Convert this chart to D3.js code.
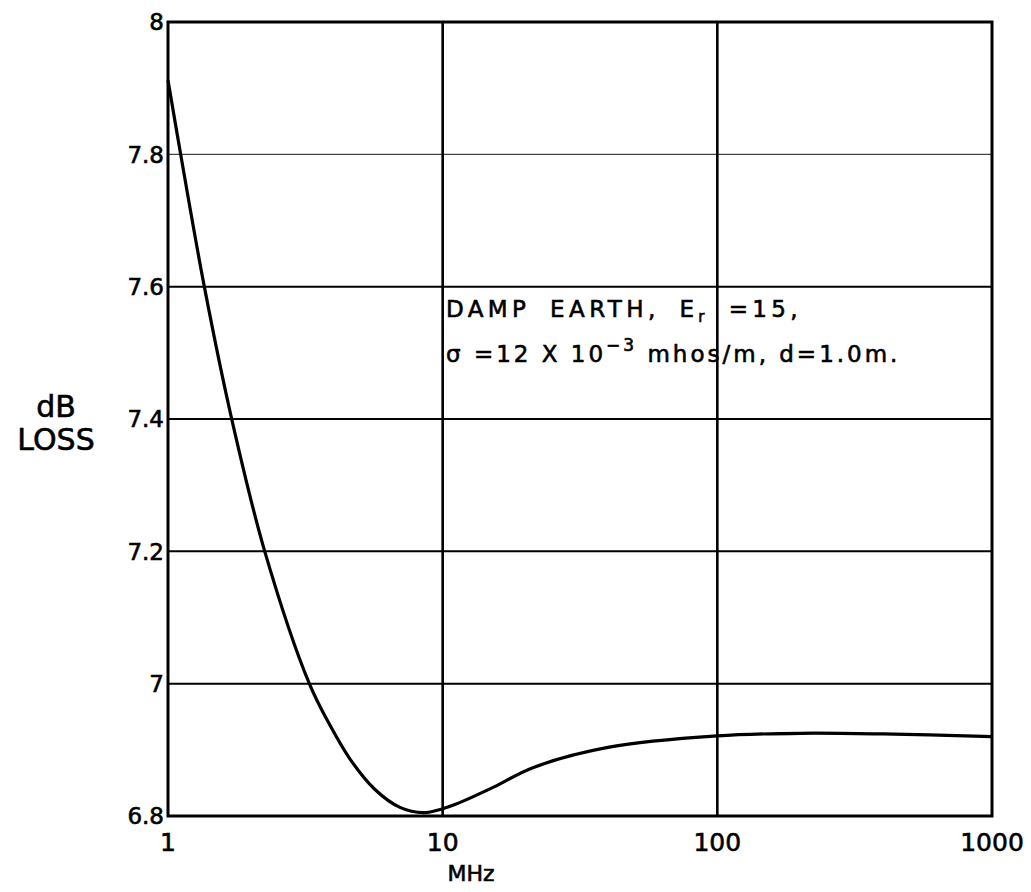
<!DOCTYPE html>
<html>
<head>
<meta charset="utf-8">
<script src="https://cdn.jsdelivr.net/npm/d3@7"></script>
<style>
  html, body { margin: 0; padding: 0; background: #fff; }
  text { font-family: "DejaVu Sans", sans-serif; fill: #000; }
</style>
</head>
<body>
<svg id="chart" width="1031" height="892"></svg>
<script>
// ---- data ----
const freqMHz = [1, 1.112, 1.356, 1.706, 2.25, 3.27, 3.89, 4.60, 5.67, 6.99, 8.5, 10, 11.2, 15.4, 21.3, 40.4, 100, 200, 400, 1000];
const lossDb  = [7.912, 7.8, 7.6, 7.4, 7.2, 7.0, 6.937, 6.886, 6.840, 6.813, 6.805, 6.811, 6.818, 6.844, 6.873, 6.904, 6.921, 6.925, 6.924, 6.920];
const xTicks = [1, 10, 100, 1000];
const xTickLabels = ["1", "10", "100", "1000"];
const yTicks = [6.8, 7.0, 7.2, 7.4, 7.6, 7.8, 8.0];
const yTickLabels = ["6.8", "7", "7.2", "7.4", "7.6", "7.8", "8"];
const yTitle = ["dB", "LOSS"];
const xTitle = "MHz";

(function () {
// ---- layout ----
const svg = d3.select("#chart");
const pLeft = 168, pRight = 992, pTop = 22, pBottom = 816;

const x = d3.scaleLog().domain([1, 1000]).range([pLeft, pRight]);
const y = d3.scaleLinear().domain([6.8, 8]).range([pBottom, pTop]);

// horizontal grid lines
svg.append("g").selectAll("line")
  .data(yTicks.filter(v => v > 6.8 && v < 8))
  .join("line")
  .attr("x1", pLeft).attr("x2", pRight)
  .attr("y1", d => y(d)).attr("y2", d => y(d))
  .attr("stroke", d => d >= 7.79 ? "#444" : "#000")
  .attr("stroke-width", d => d >= 7.79 ? 1.2 : 2);

// vertical grid lines
svg.append("g").selectAll("line")
  .data(xTicks.filter(v => v > 1 && v < 1000))
  .join("line")
  .attr("x1", d => x(d)).attr("x2", d => x(d))
  .attr("y1", pTop).attr("y2", pBottom)
  .attr("stroke", "#000").attr("stroke-width", 2.6);

// frame
svg.append("rect")
  .attr("x", pLeft).attr("y", pTop)
  .attr("width", pRight - pLeft).attr("height", pBottom - pTop)
  .attr("fill", "none").attr("stroke", "#000").attr("stroke-width", 3);

// curve
const line = d3.line()
  .x((d, i) => x(freqMHz[i]))
  .y(d => y(d))
  .curve(d3.curveCatmullRom.alpha(0.5));
svg.append("path")
  .datum(lossDb)
  .attr("d", line)
  .attr("fill", "none")
  .attr("stroke", "#000")
  .attr("stroke-width", 3.2);

const heavy = sel => sel.attr("stroke", "#000").attr("stroke-width", 0.6);

// y tick labels
svg.append("g").selectAll("text")
  .data(yTicks)
  .join("text")
  .attr("x", pLeft - 4)
  .attr("y", d => y(d))
  .attr("dy", "0.36em")
  .attr("text-anchor", "end")
  .attr("font-size", 23)
  .call(heavy)
  .text((d, i) => yTickLabels[i]);

// x tick labels
svg.append("g").selectAll("text")
  .data(xTicks)
  .join("text")
  .attr("x", d => x(d))
  .attr("y", 851)
  .attr("text-anchor", "middle")
  .attr("font-size", 25)
  .call(heavy)
  .text((d, i) => xTickLabels[i]);

// axis titles
svg.append("text")
  .attr("x", 471).attr("y", 881)
  .attr("text-anchor", "middle")
  .attr("font-size", 22)
  .call(heavy)
  .text(xTitle);

svg.append("g").selectAll("text")
  .data(yTitle)
  .join("text")
  .attr("x", 56)
  .attr("y", (d, i) => 417 + i * 33)
  .attr("text-anchor", "middle")
  .attr("font-size", 30)
  .call(heavy)
  .text(d => d);

// annotation
const ann = svg.append("g").attr("font-size", 23).call(heavy);
const t1 = ann.append("text").attr("x", 446).attr("y", 317)
  .attr("letter-spacing", 4.4).attr("word-spacing", 8);
t1.append("tspan").text("DAMP EARTH, E");
t1.append("tspan").attr("font-size", 15).attr("dy", 5).text("r");
t1.append("tspan").attr("dy", -5).text(" =15,");

const t2 = ann.append("text").attr("x", 446).attr("y", 362)
  .attr("letter-spacing", 3.0);
t2.append("tspan").text("σ =12 X 10");
t2.append("tspan").attr("font-size", 17).attr("dy", -11).text("−3");
t2.append("tspan").attr("dy", 11).text(" mhos/m, d=1.0m.");
})();
</script>
</body>
</html>
